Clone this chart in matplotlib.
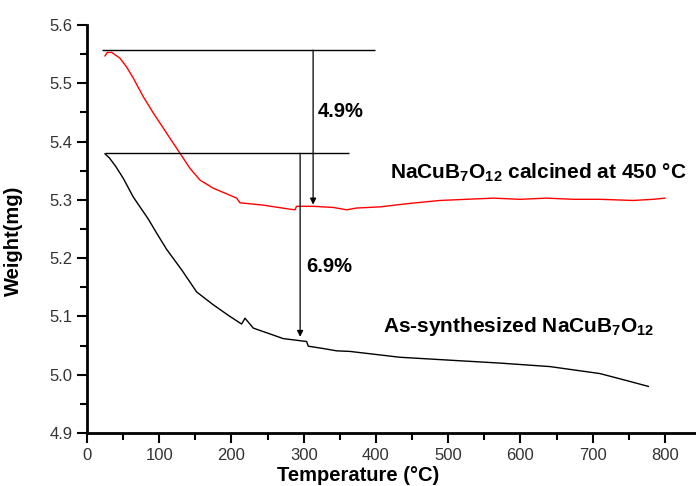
import matplotlib.pyplot as plt
from matplotlib.ticker import MultipleLocator

plt.rcParams['font.family'] = ['Liberation Sans', 'DejaVu Sans']
plt.rcParams['mathtext.fontset'] = 'custom'
plt.rcParams['mathtext.rm'] = 'Liberation Sans:bold'
plt.rcParams['mathtext.bf'] = 'Liberation Sans:bold'
plt.rcParams['mathtext.default'] = 'rm'

# calcined sample (red)
t_calc = [24.9, 28.1, 34.2, 45.7, 54.8, 64, 77.9, 91.8, 105.7, 119.5, 128.7, 142.6,
          156.4, 174.8, 197.9, 207.1, 211.8, 244, 281, 288, 290, 313, 341, 359.4,
          373, 405.5, 447, 488.6, 525.4, 562.4, 599.3, 636.3, 673.2, 710, 756, 784, 800]
w_calc = [5.547, 5.553, 5.553, 5.543, 5.528, 5.509, 5.477, 5.449, 5.423, 5.397, 5.380, 5.354,
          5.334, 5.320, 5.308, 5.303, 5.295, 5.291, 5.284, 5.283, 5.289, 5.289, 5.287, 5.283,
          5.286, 5.288, 5.294, 5.299, 5.301, 5.303, 5.301, 5.303, 5.301, 5.301, 5.299, 5.301, 5.303]

# as-synthesized sample (black)
t_as = [24.9, 31, 40, 50.2, 64, 84.9, 96.4, 110.3, 131, 151.8, 174.8, 197.9, 214,
        218.7, 230.2, 248.7, 271.7, 304, 306.3, 327, 345.5, 364, 433, 502, 571.6,
        640.8, 710, 747, 777]
w_as = [5.379, 5.372, 5.357, 5.337, 5.305, 5.267, 5.243, 5.215, 5.180, 5.142, 5.120, 5.100, 5.087,
        5.097, 5.080, 5.072, 5.062, 5.057, 5.049, 5.045, 5.041, 5.040, 5.030, 5.025, 5.020,
        5.014, 5.002, 4.990, 4.980]

# mass-loss markers
top_calc, bottom_calc = 5.557, 5.292
top_as, bottom_as = 5.380, 5.065
arrow_t_calc, arrow_t_as = 313, 295

fig = plt.figure(figsize=(6.96, 4.86), dpi=100)
ax = fig.add_axes([0.125, 0.109, 0.875, 0.8395])

ax.plot(t_calc, w_calc, color='red', lw=1)
ax.plot(t_as, w_as, color='black', lw=1)

ax.hlines(top_calc, 21, 398, color='black', lw=1)
ax.hlines(top_as, 25, 362, color='black', lw=1)
ax.annotate('', xy=(arrow_t_calc, bottom_calc), xytext=(arrow_t_calc, top_calc),
            arrowprops=dict(arrowstyle='-|>', color='black', lw=0.9, mutation_scale=9,
                            shrinkA=0, shrinkB=0))
ax.annotate('', xy=(arrow_t_as, bottom_as), xytext=(arrow_t_as, top_as),
            arrowprops=dict(arrowstyle='-|>', color='black', lw=0.9, mutation_scale=9,
                            shrinkA=0, shrinkB=0))

ax.text(320, 5.452, '4.9%', fontsize=14.5, fontweight='bold', va='center')
ax.text(304, 5.185, '6.9%', fontsize=14.5, fontweight='bold', va='center')
ax.text(419, 5.336, r'NaCuB$_7$O$_{12}$ calcined at 450 °C', fontsize=15,
        fontweight='bold', va='baseline')
ax.text(410, 5.073, r'As-synthesized NaCuB$_7$O$_{12}$', fontsize=15,
        fontweight='bold', va='baseline')

ax.set_xlim(0, 843)
ax.set_ylim(4.9, 5.6)
ax.xaxis.set_major_locator(MultipleLocator(100))
ax.xaxis.set_minor_locator(MultipleLocator(50))
ax.yaxis.set_major_locator(MultipleLocator(0.1))
ax.yaxis.set_minor_locator(MultipleLocator(0.05))
ax.tick_params(which='major', direction='out', length=7, width=1.5, labelsize=12,
               labelcolor='#333333')
ax.tick_params(which='minor', direction='out', length=5, width=1.5)
ax.set_xticks(range(0, 801, 100))

for s in ['top', 'right']:
    ax.spines[s].set_visible(False)
for s in ['left', 'bottom']:
    ax.spines[s].set_linewidth(2)

ax.set_xlabel('Temperature (°C)', fontsize=14.5, fontweight='bold')
ax.set_ylabel('Weight(mg)', fontsize=14.5, fontweight='bold')
ax.xaxis.set_label_coords(0.446, -0.08)
ax.yaxis.set_label_coords(-0.105, 0.47)

fig.savefig('out.png', dpi=100)
